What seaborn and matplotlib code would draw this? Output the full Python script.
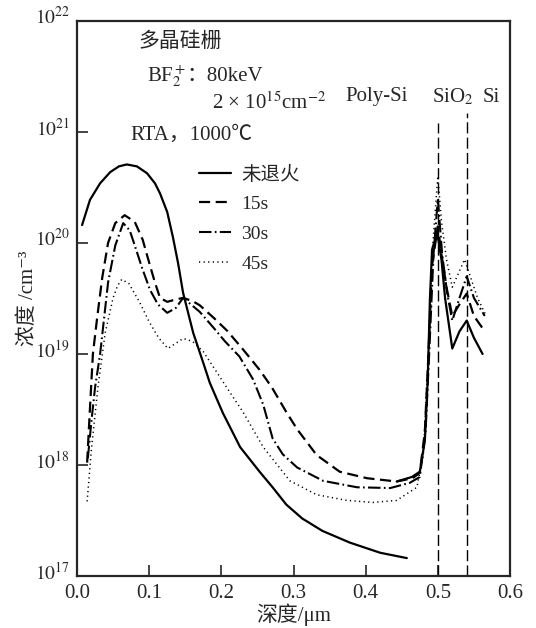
import numpy as np
import pandas as pd
import matplotlib
matplotlib.use("Agg")
import matplotlib.pyplot as plt
import matplotlib.transforms as mtrans
import seaborn as sns

# ---------------- data (depth in um, concentration in cm^-3) ----------------
x_none_a = [0.007, 0.018, 0.032, 0.046, 0.058, 0.069, 0.083, 0.097, 0.108, 0.115,
            0.125, 0.133, 0.140, 0.147, 0.161, 0.175, 0.184, 0.202, 0.216, 0.226,
            0.253, 0.271, 0.290, 0.312, 0.340, 0.378, 0.420, 0.457]
y_none_a = [1.45e20, 2.45e20, 3.45e20, 4.35e20, 4.9e20, 5.1e20, 4.9e20, 4.25e20,
            3.45e20, 2.8e20, 1.9e20, 1.12e20, 6.6e19, 3.55e19, 1.55e19, 8.3e18,
            5.5e18, 2.95e18, 1.95e18, 1.45e18, 8.7e17, 6.3e17, 4.4e17, 3.3e17,
            2.55e17, 2.0e17, 1.62e17, 1.45e17]
x_none_b = [0.443, 0.464, 0.475, 0.482, 0.486, 0.489, 0.492, 0.499, 0.505, 0.510,
            0.520, 0.530, 0.540, 0.550, 0.562]
y_none_b = [7.1e17, 7.8e17, 8.7e17, 1.66e18, 5.9e18, 3.1e19, 8.7e19, 1.25e20,
            7.1e19, 3.2e19, 1.12e19, 1.6e19, 2.0e19, 1.4e19, 1.0e19]

x_15s = [0.014, 0.018, 0.022, 0.028, 0.035, 0.043, 0.053, 0.066, 0.080, 0.091,
         0.101, 0.108, 0.115, 0.125, 0.137, 0.147, 0.160, 0.170, 0.190, 0.208,
         0.230, 0.253, 0.270, 0.290, 0.305, 0.332, 0.364, 0.402, 0.443, 0.465,
         0.475, 0.482, 0.487, 0.492, 0.500, 0.505, 0.512, 0.520, 0.530, 0.540,
         0.550, 0.565]
y_15s = [1.05e18, 3.3e18, 1.0e19, 2.15e19, 4.9e19, 1.0e20, 1.51e20, 1.78e20,
         1.55e20, 1.07e20, 6.3e19, 4.4e19, 3.2e19, 2.95e19, 3.1e19, 3.2e19,
         3.0e19, 2.75e19, 2.1e19, 1.62e19, 1.1e19, 7.2e18, 5.0e18, 3.0e18,
         2.1e18, 1.23e18, 8.7e17, 7.6e17, 7.1e17, 7.6e17, 8.5e17, 2.0e18,
         1.0e19, 6.3e19, 1.41e20, 7.9e19, 4.0e19, 2.2e19, 2.8e19, 3.5e19,
         2.2e19, 1.6e19]

x_30s = [0.015, 0.020, 0.025, 0.032, 0.043, 0.053, 0.064, 0.073, 0.080, 0.090,
         0.101, 0.112, 0.125, 0.137, 0.147, 0.170, 0.190, 0.205, 0.225, 0.244,
         0.258, 0.271, 0.285, 0.305, 0.341, 0.388, 0.434, 0.461, 0.475, 0.483,
         0.488, 0.494, 0.500, 0.506, 0.513, 0.520, 0.530, 0.540, 0.550, 0.565]
y_30s = [1.15e18, 2.5e18, 5.0e18, 1.0e19, 4.4e19, 9.5e19, 1.51e20, 1.3e20,
         9.5e19, 6.0e19, 3.8e19, 2.8e19, 2.35e19, 2.6e19, 3.2e19, 2.4e19,
         1.7e19, 1.3e19, 9.5e18, 5.9e18, 3.5e18, 1.74e18, 1.25e18, 9.5e17,
         7.2e17, 6.3e17, 6.2e17, 6.9e17, 7.8e17, 2.0e18, 1.0e19, 7.9e19,
         2.5e20, 7.9e19, 3.5e19, 2.0e19, 3.2e19, 5.0e19, 3.2e19, 2.2e19]

x_45s = [0.014, 0.020, 0.029, 0.039, 0.050, 0.056, 0.062, 0.072, 0.087, 0.100,
         0.113, 0.126, 0.137, 0.147, 0.160, 0.175, 0.194, 0.212, 0.230, 0.258,
         0.295, 0.332, 0.374, 0.410, 0.443, 0.471, 0.480, 0.486, 0.492, 0.500,
         0.505, 0.512, 0.520, 0.530, 0.537, 0.545, 0.555, 0.567]
y_45s = [4.7e17, 1.4e18, 5.0e18, 1.55e19, 3.2e19, 4.1e19, 4.7e19, 4.3e19,
         2.9e19, 1.95e19, 1.4e19, 1.12e19, 1.25e19, 1.38e19, 1.3e19, 1.05e19,
         6.8e18, 4.5e18, 3.0e18, 1.45e18, 7.2e17, 5.4e17, 4.8e17, 4.6e17,
         4.8e17, 6.3e17, 1.26e18, 7.9e18, 7.9e19, 4.0e20, 1.58e20, 7.1e19,
         4.0e19, 5.6e19, 7.1e19, 5.0e19, 3.2e19, 2.2e19]

interface_x = [0.50, 0.54]
interface_top = [1.2e21, 1.48e21]

legend_labels = ["未退火", "15s", "30s", "45s"]
x_ticks = [0.0, 0.1, 0.2, 0.3, 0.4, 0.5, 0.6]
x_ticklabels = ["0.0", "0.1", "0.2", "0.3", "0.4", "0.5", "0.6"]
y_ticks = [1e17, 1e18, 1e19, 1e20, 1e21, 1e22]
y_ticklabels = [r"$10^{17}$", r"$10^{18}$", r"$10^{19}$", r"$10^{20}$",
                r"$10^{21}$", r"$10^{22}$"]

# ---------------- style ----------------
sns.set_style("ticks")
FAM = ["Liberation Serif", "Noto Sans CJK SC", "DejaVu Serif"]
plt.rcParams["font.family"] = FAM
plt.rcParams["mathtext.fontset"] = "stix"
plt.rcParams["axes.unicode_minus"] = False

fig = plt.figure(figsize=(5.36, 6.28), dpi=100)
ax = fig.add_axes([0.1437, 0.0828, 0.8078, 0.8838])

def draw(xs, ys, ls, lw, label=None):
    df = pd.DataFrame({"depth": xs, "conc": ys})
    sns.lineplot(data=df, x="depth", y="conc", ax=ax, color="black",
                 linewidth=lw, linestyle=ls, sort=False, estimator=None,
                 label=label, legend=False)

draw(x_none_a, y_none_a, "-", 1.6, legend_labels[0])
draw(x_none_b, y_none_b, "-", 1.6)
draw(x_15s, y_15s, (0, (5, 2.5)), 1.6, legend_labels[1])
draw(x_30s, y_30s, (0, (6, 1.6, 0.8, 1.6)), 1.5, legend_labels[2])
draw(x_45s, y_45s, (0, (0.8, 2.2)), 1.1, legend_labels[3])

for xi, top in zip(interface_x, interface_top):
    ax.vlines(xi, 1e17, top, colors="black", linestyles=(0, (8, 3)),
              linewidth=1.0)

ax.set_yscale("log")
ax.set_xlim(0, 0.6)
ax.set_ylim(1e17, 1e22)
ax.set_xticks(x_ticks)
ax.set_xticklabels(x_ticklabels, fontsize=15)
ax.set_yticks(y_ticks)
ax.set_yticklabels(y_ticklabels, fontsize=14)
ax.minorticks_off()
ax.tick_params(axis="both", direction="in", length=8, width=1.2)
ax.tick_params(axis="x", pad=6)
ax.tick_params(axis="y", pad=5)
shift = mtrans.ScaledTranslation(0, -0.035, fig.dpi_scale_trans)
for lbl in ax.get_yticklabels():
    lbl.set_verticalalignment("baseline")
    lbl.set_transform(lbl.get_transform() + shift)
for s in ax.spines.values():
    s.set_linewidth(1.6)
    s.set_visible(True)

ax.set_xlabel("深度/μm", fontsize=15, family=FAM)
ax.xaxis.set_label_coords(0.5, -0.05)
ax.set_ylabel("浓度 /cm⁻³", fontsize=15, family=FAM)
ax.yaxis.set_label_coords(-0.09, 0.5)

handles, labels = ax.get_legend_handles_labels()
leg = ax.legend(handles, labels, loc="upper left",
                bbox_to_anchor=((181 - 77) / 433, (576 - 148) / 555),
                frameon=False, handlelength=1.65, handletextpad=0.55,
                labelspacing=0.62, prop={"family": FAM, "size": 14})

# annotations (figure pixel based)
W, H = 536, 628
def ftxt(px, py, s, size=15, ha="left"):
    fig.text(px / W, 1 - py / H, s, fontsize=size, family=FAM, ha=ha, va="center")

ftxt(138, 42, "多晶硅栅", 15)
ftxt(147, 76, "BF$_2^+$", 15)
ftxt(186, 76, "：80keV", 15)
ftxt(212, 103, "2 × 10$^{15}$cm$^{-2}$", 15)
ftxt(130, 135, "RTA，1000℃", 15)
ftxt(345, 97, "Poly-Si", 15)
ftxt(432, 97, "SiO$_2$", 15)
ftxt(483, 97, "Si", 15)

fig.savefig("out.png", dpi=100)
